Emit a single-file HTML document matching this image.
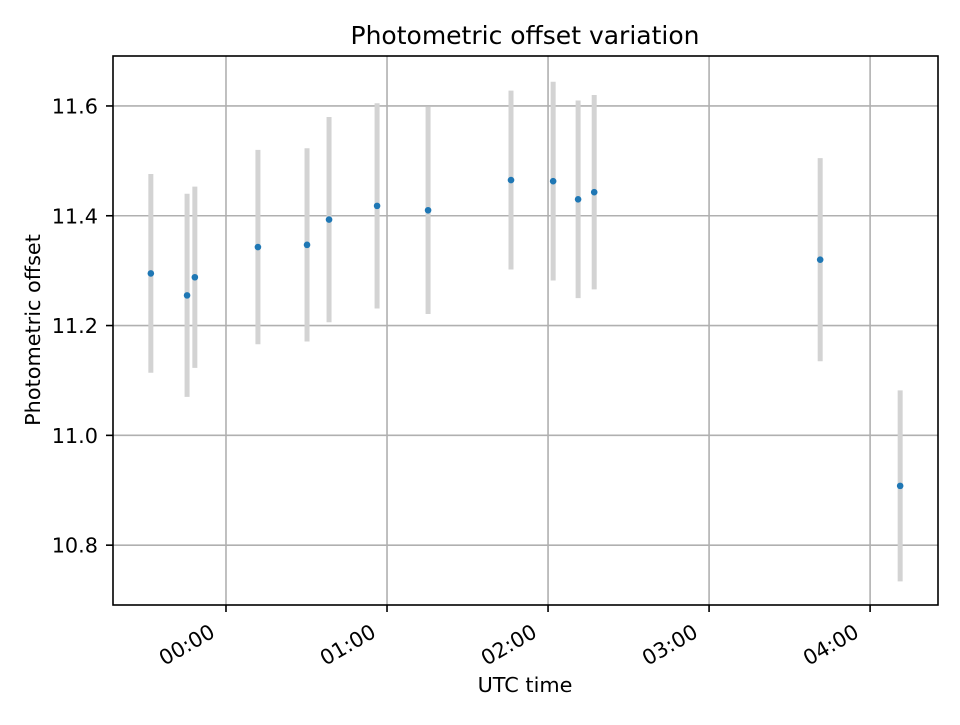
<!DOCTYPE html>
<html><head><meta charset="utf-8"><style>
body{margin:0;background:#fff;}
svg text{font-family:"DejaVu Sans","Liberation Sans",sans-serif;fill:#000;}
</style></head><body>
<svg id="chart" width="960" height="720" xmlns="http://www.w3.org/2000/svg">
<rect width="960" height="720" fill="#fff"/>
<g id="grid"></g>
<g id="marks"></g>
<rect x="113" y="56" width="825" height="549" fill="none" stroke="#000" stroke-width="1.6"/>
<g id="axes"></g>
<text x="525" y="44" font-size="25" text-anchor="middle">Photometric offset variation</text>
<text x="525" y="692" font-size="20.8" text-anchor="middle">UTC time</text>
<text transform="translate(40,330) rotate(-90)" font-size="20.8" text-anchor="middle">Photometric offset</text>
</svg>
<script>
// time in minutes from 00:00 UTC
const times = [-28, -14.5, -11.6, 11.9, 30.2, 38.4, 56.3, 75.3, 106.2, 121.9, 131.2, 137.2, 221.4, 251.2];
const offsets = [11.295, 11.255, 11.288, 11.343, 11.347, 11.393, 11.418, 11.41, 11.465, 11.463, 11.43, 11.443, 11.32, 10.908];
const errors = [0.181, 0.185, 0.165, 0.177, 0.176, 0.187, 0.187, 0.189, 0.163, 0.181, 0.18, 0.177, 0.185, 0.174];
const xTicks = [0, 60, 120, 180, 240];
const xTickLabels = ["00:00", "01:00", "02:00", "03:00", "04:00"];
const yTicks = [10.8, 11.0, 11.2, 11.4, 11.6];
const yTickLabels = ["10.8", "11.0", "11.2", "11.4", "11.6"];

const L=113,R=938,T=56,B=605;
const xMin=-42.1,xMax=265.3,yMin=10.691,yMax=11.691;
const X=v=>L+(v-xMin)/(xMax-xMin)*(R-L);
const Y=v=>B-(v-yMin)/(yMax-yMin)*(B-T);
const NS="http://www.w3.org/2000/svg";
function mk(parent,tag,attrs){const e=document.createElementNS(NS,tag);for(const k in attrs)e.setAttribute(k,attrs[k]);parent.appendChild(e);return e;}
const grid=document.getElementById('grid'),axes=document.getElementById('axes'),marks=document.getElementById('marks');

xTicks.forEach((t,i)=>{
  const x=X(t);
  const g=mk(grid,'line',{x1:x,x2:x,y1:T,y2:B,stroke:'#b0b0b0','stroke-width':1.6});
  
  
  const tk=mk(axes,'line',{x1:x,x2:x,y1:B,y2:B+7,stroke:'#000','stroke-width':1.6});
  
  
  const tx=mk(axes,'text',{transform:`translate(${x-9.7},${B+31}) rotate(-30)`,'font-size':20.8,'text-anchor':'end'});
  tx.textContent=xTickLabels[i];
  
  
});
yTicks.forEach((t,i)=>{
  const y=Y(t);
  const g=mk(grid,'line',{x1:L,x2:R,y1:y,y2:y,stroke:'#b0b0b0','stroke-width':1.6});
  
  
  const tk=mk(axes,'line',{x1:L-7,x2:L,y1:y,y2:y,stroke:'#000','stroke-width':1.6});
  
  
  const tx=mk(axes,'text',{x:L-15,y:y+7.5,'font-size':20.8,'text-anchor':'end'});
  tx.textContent=yTickLabels[i];
  
  
});
times.forEach((t,i)=>{
  const x=X(t);
  const eb=mk(marks,'line',{x1:x,x2:x,y1:Y(offsets[i]+errors[i]),y2:Y(offsets[i]-errors[i]),stroke:'#d3d3d3','stroke-width':5});
  
  
});
times.forEach((t,i)=>{
  const p=mk(marks,'circle',{cx:X(t),cy:Y(offsets[i]),r:3.3,fill:'#1f77b4'});
  
  
});
</script>
</body></html>
